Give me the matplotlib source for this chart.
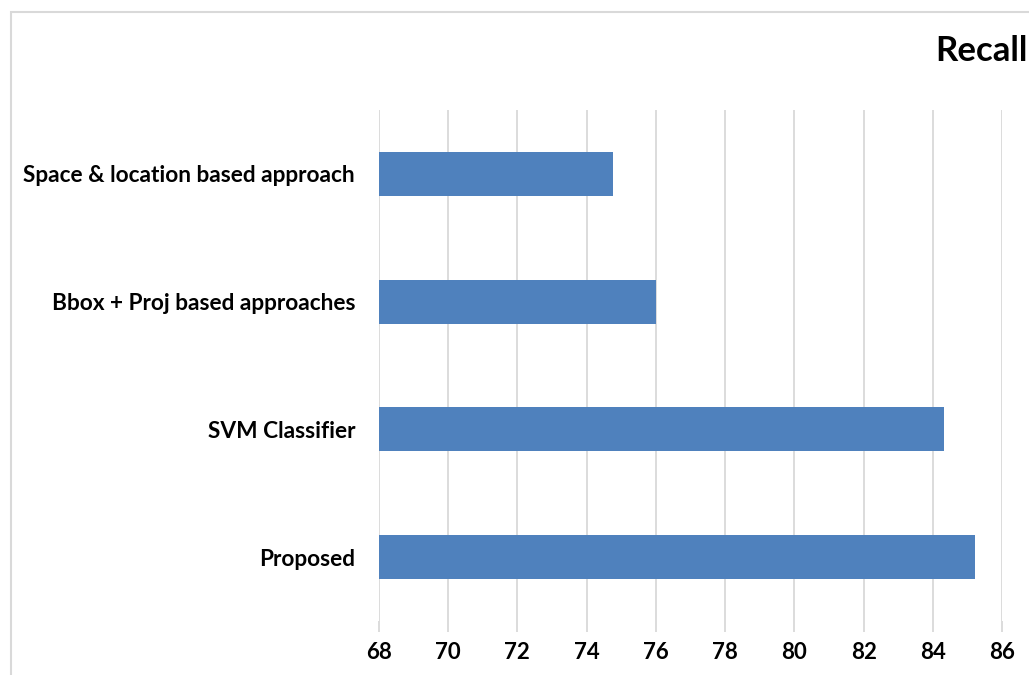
import matplotlib
matplotlib.use("Agg")
import matplotlib.pyplot as plt
from matplotlib.patches import Rectangle

categories = ["Space & location based approach", "Bbox + Proj based approaches", "SVM Classifier", "Proposed"]
recall = [74.77, 76.0, 84.33, 85.21]
xticks = [68, 70, 72, 74, 76, 78, 80, 82, 84, 86]

plt.rcParams["font.family"] = ["Lato", "DejaVu Sans"]

fig = plt.figure(figsize=(10.29, 6.75), dpi=100)
ax = fig.add_axes([0.368, 0.080, 0.606, 0.757])

pos = list(range(len(categories)))[::-1]
ax.barh(pos, [v - 68 for v in recall], left=68, height=0.345, color="#4f81bd", zorder=3)

ax.set_xlim(68, 86)
ax.set_ylim(-0.5, 3.5)
ax.set_xticks(xticks)
ax.set_xticklabels([str(t) for t in xticks], fontsize=16, fontweight="bold")
ax.set_yticks(pos)
ax.set_yticklabels(categories, fontsize=16.3, fontweight="bold")
ax.grid(axis="x", color="#d9d9d9", linewidth=1.3, zorder=0)
for s in ax.spines.values():
    s.set_visible(False)
ax.tick_params(axis="x", length=8, color="#d9d9d9", width=1.3, pad=7)
ax.tick_params(axis="y", length=0, pad=17)

fig.text(0.999, 0.925, "Recall", ha="right", va="center", fontsize=25, fontweight="bold")

fig.patches.append(Rectangle((0.011, -0.01), 1.2, 0.992, transform=fig.transFigure,
                             fill=False, edgecolor="#d9d9d9", linewidth=1.5))

fig.savefig("out.png", dpi=100)
